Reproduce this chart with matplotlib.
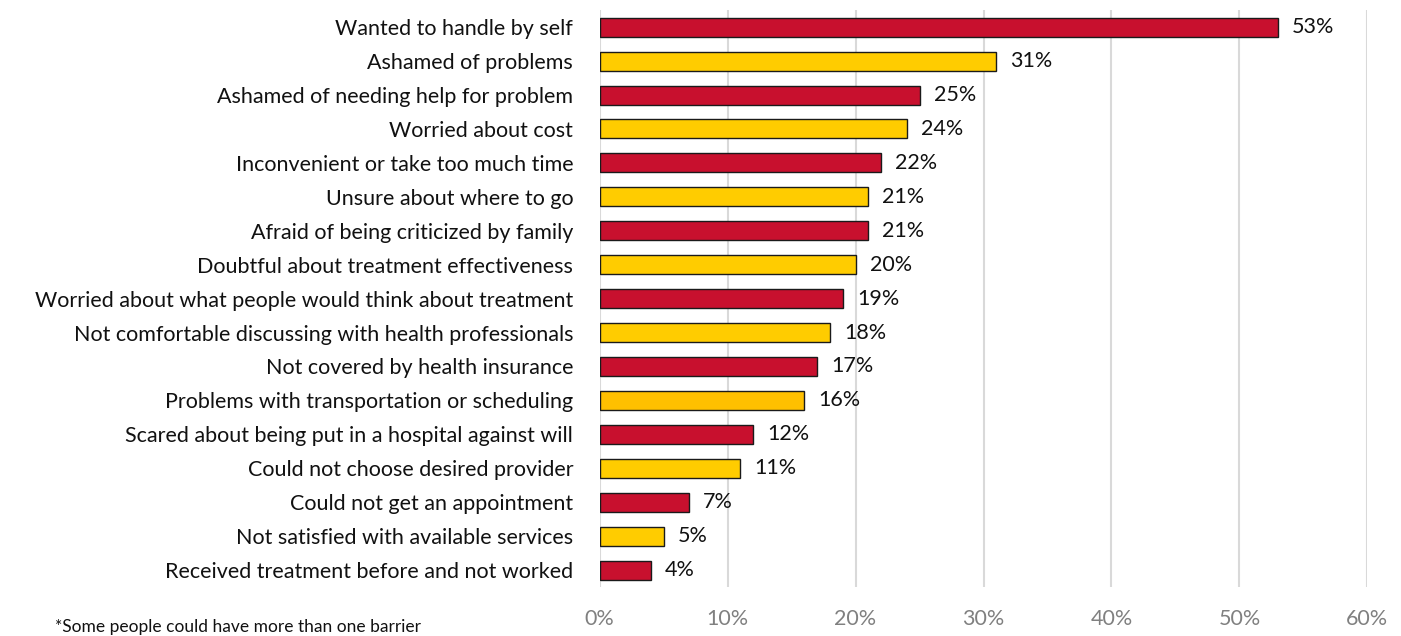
import matplotlib.pyplot as plt
from matplotlib.ticker import FuncFormatter

# Barriers to treatment, top to bottom
labels = [
    "Wanted to handle by self",
    "Ashamed of problems",
    "Ashamed of needing help for problem",
    "Worried about cost",
    "Inconvenient or take too much time",
    "Unsure about where to go",
    "Afraid of being criticized by family",
    "Doubtful about treatment effectiveness",
    "Worried about what people would think about treatment",
    "Not comfortable discussing with health professionals",
    "Not covered by health insurance",
    "Problems with transportation or scheduling",
    "Scared about being put in a hospital against will",
    "Could not choose desired provider",
    "Could not get an appointment",
    "Not satisfied with available services",
    "Received treatment before and not worked",
]
values = [53, 31, 25, 24, 22, 21, 21, 20, 19, 18, 17, 16, 12, 11, 7, 5, 4]
colors = ["#C8102E", "#FFCC00", "#C8102E", "#FFCC00", "#C8102E", "#FFCC00",
          "#C8102E", "#FFCC00", "#C8102E", "#FFCC00", "#C8102E", "#FFC000",
          "#C8102E", "#FFCC00", "#C8102E", "#FFCC00", "#C8102E"]

plt.rcParams['font.family'] = ['Lato', 'DejaVu Sans']

fig = plt.figure(figsize=(14.01, 6.36), dpi=100)
ax = fig.add_axes([0.428, 0.077, 0.548, 0.907])

y = list(range(len(labels)))
ax.barh(y, values, height=0.56, color=colors, edgecolor="#1a1a1a", linewidth=1, zorder=3)

for yi, v in zip(y, values):
    ax.text(v + 1.1, yi, f"{v}%", va="center", ha="left", fontsize=15.5, color="#111111")

ax.set_yticks(y)
ax.set_yticklabels(labels, fontsize=15.5, color="#111111")
ax.set_ylim(len(labels) - 0.5, -0.5)
ax.set_xlim(0, 60)
ax.set_xticks(range(0, 61, 10))
ax.xaxis.set_major_formatter(FuncFormatter(lambda x, p: f"{int(x)}%"))
ax.tick_params(axis="x", colors="#808080", labelsize=15.5, length=0, pad=16)
ax.tick_params(axis="y", length=0, pad=19)

ax.grid(axis="x", color="#d9d9d9", linewidth=1.5, zorder=0)
for s in ax.spines.values():
    s.set_visible(False)

fig.text(0.039, 0.002, "*Some people could have more than one barrier",
         fontsize=12.5, color="#111111", va="bottom", ha="left")

fig.savefig("out.png", dpi=100)
